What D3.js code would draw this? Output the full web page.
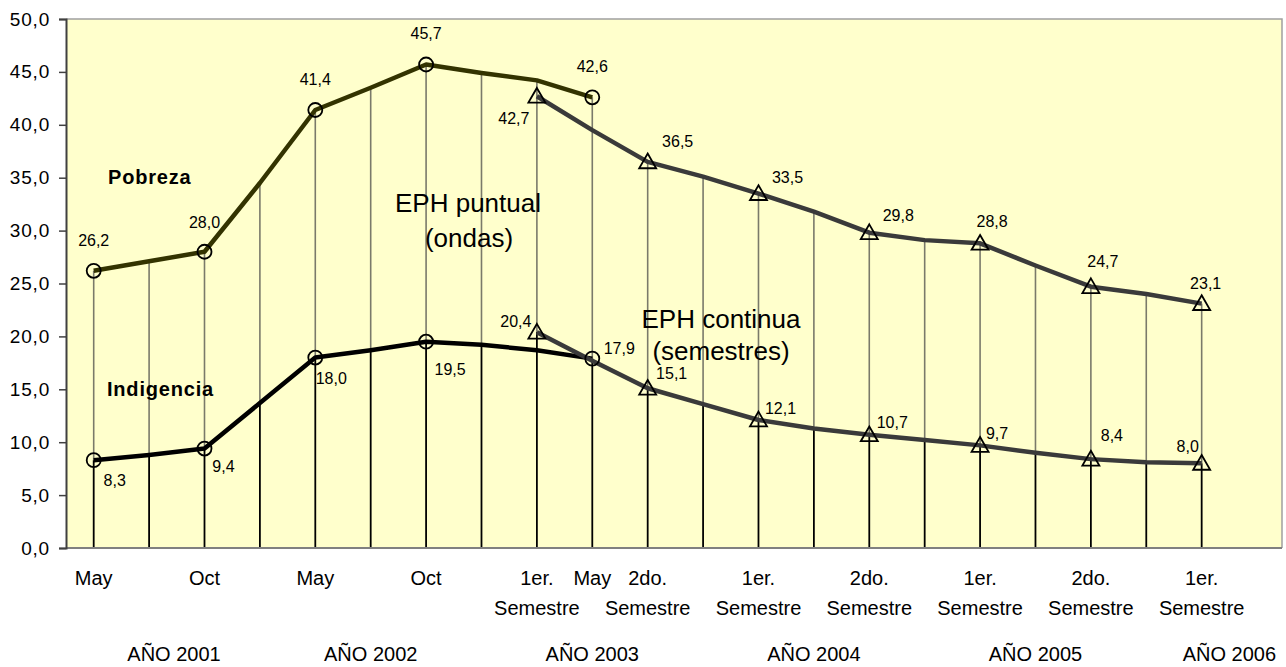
<!DOCTYPE html>
<html>
<head>
<meta charset="utf-8">
<script src="https://cdn.jsdelivr.net/npm/d3@7"></script>
<style>
  html, body { margin: 0; padding: 0; background: #ffffff; }
  svg { display: block; font-family: "Liberation Sans", Arial, sans-serif; }
</style>
</head>
<body>
<svg id="chart" width="1286" height="667"></svg>
<script>
// ---------------- DATA ----------------
// 22 category slots on the x axis (last one empty)
const categoryLine1 = ["May","","Oct","","May","","Oct","","1er.","May","2do.","","1er.","","2do.","","1er.","","2do.","","1er.",""];
const categoryLine2 = ["","","","","","","","","Semestre","","Semestre","","Semestre","","Semestre","","Semestre","","Semestre","","Semestre",""];
const yearLabels = ["AÑO 2001","AÑO 2002","AÑO 2003","AÑO 2004","AÑO 2005","AÑO 2006"];
const yearSlots  = [1.45, 5, 9, 13, 17, 20.5];
const yTicks = [0,5,10,15,20,25,30,35,40,45,50];

// EPH puntual (ondas): slots 0..9
const ondasStart = 0;
const pobrezaOndas    = [26.2, 27.1, 28.0, 34.5, 41.4, 43.5, 45.7, 44.9, 44.2, 42.6];
const indigenciaOndas = [8.3, 8.8, 9.4, 13.7, 18.0, 18.7, 19.5, 19.2, 18.7, 17.9];
const ondasMarkerSlots = [0, 2, 4, 6, 9];

// EPH continua (semestres): slots 8..20
const contStart = 8;
const pobrezaCont    = [42.7, 39.5, 36.5, 35.1, 33.5, 31.8, 29.8, 29.1, 28.8, 26.7, 24.7, 24.0, 23.1];
const indigenciaCont = [20.4, 17.7, 15.1, 13.6, 12.1, 11.3, 10.7, 10.2, 9.7, 9.0, 8.4, 8.1, 8.0];
const contMarkerSlots = [8, 10, 12, 14, 16, 18, 20];

// label placement (layout, px offsets relative to the marker), in marker order
const offPobOndas = [[0,-25],[0,-24],[0,-25],[0,-25],[0,-25]];
const offIndOndas = [[21,26],[19,23],[16,26],[24,33],[27,-5]];
const offPobCont  = [[-23,28],[30,-15],[29,-11],[29,-12],[12,-16],[12,-20],[4,-15]];
const offIndCont  = [[-21,-5],[24,-9],[22,-6],[23,-7],[17,-6],[21,-18],[-14,-11]];

// ---------------- CHART ----------------
const svg = d3.select("#chart");
const L = 66, R = 1282, T = 19, B = 548;

const x = d3.scaleLinear().domain([-0.5, 21.45]).range([L, R]);
const y = d3.scaleLinear().domain([0, 50]).range([B, T]);
const fmt = v => d3.format(".1f")(v).replace(".", ",");

// plot background
svg.append("rect").attr("x", L).attr("y", T).attr("width", R - L).attr("height", B - T)
  .attr("fill", "#FFFFCC");

// build per-slot maxima for drop lines
const slotCount = 21;
const pobAt = [], indAt = [];
for (let i = 0; i < slotCount; i++) { pobAt[i] = -Infinity; indAt[i] = -Infinity; }
pobrezaOndas.forEach((v, k) => { const i = ondasStart + k; pobAt[i] = Math.max(pobAt[i], v); });
pobrezaCont.forEach((v, k) => { const i = contStart + k; pobAt[i] = Math.max(pobAt[i], v); });
indigenciaOndas.forEach((v, k) => { const i = ondasStart + k; indAt[i] = Math.max(indAt[i], v); });
indigenciaCont.forEach((v, k) => { const i = contStart + k; indAt[i] = Math.max(indAt[i], v); });

const drops = d3.range(slotCount);
svg.append("g").selectAll("line").data(drops).join("line")
  .attr("x1", i => x(i)).attr("x2", i => x(i))
  .attr("y1", i => y(pobAt[i])).attr("y2", i => y(indAt[i]))
  .attr("stroke", "#7a7a6a").attr("stroke-width", 1.6);
svg.append("g").selectAll("line").data(drops).join("line")
  .attr("x1", i => x(i)).attr("x2", i => x(i))
  .attr("y1", i => y(indAt[i])).attr("y2", y(0))
  .attr("stroke", "#000000").attr("stroke-width", 1.8);

// border (top / right gray)
svg.append("path")
  .attr("d", `M${L},${T}H${R}V${B}`)
  .attr("fill", "none").attr("stroke", "#a0a0a0").attr("stroke-width", 1.5);

// x axis baseline
svg.append("line").attr("x1", L).attr("x2", R).attr("y1", B).attr("y2", B)
  .attr("stroke", "#808080").attr("stroke-width", 2);

// y axis
const yAxis = d3.axisLeft(y).tickValues(yTicks).tickSize(7).tickPadding(9).tickFormat(fmt);
const gy = svg.append("g").attr("transform", `translate(${L},0)`).call(yAxis);
gy.select(".domain").attr("stroke", "#404040").attr("stroke-width", 2);
gy.selectAll(".tick line").attr("stroke", "#404040").attr("stroke-width", 1.5);
gy.selectAll(".tick text").attr("font-size", 19).attr("fill", "#000")
  .attr("font-family", "'Liberation Sans', Arial, sans-serif").attr("letter-spacing", 0.8);

// lines
const line = (start) => d3.line().x((d, k) => x(start + k)).y(d => y(d));
svg.append("path").datum(pobrezaOndas).attr("d", line(ondasStart))
  .attr("fill", "none").attr("stroke", "#333300").attr("stroke-width", 4.5).attr("stroke-linejoin", "round");
svg.append("path").datum(indigenciaOndas).attr("d", line(ondasStart))
  .attr("fill", "none").attr("stroke", "#000000").attr("stroke-width", 4.5).attr("stroke-linejoin", "round");
svg.append("path").datum(pobrezaCont).attr("d", line(contStart))
  .attr("fill", "none").attr("stroke", "#3a3a3a").attr("stroke-width", 4.5).attr("stroke-linejoin", "round");
svg.append("path").datum(indigenciaCont).attr("d", line(contStart))
  .attr("fill", "none").attr("stroke", "#3a3a3a").attr("stroke-width", 4.5).attr("stroke-linejoin", "round");

// markers
function circles(vals, start, slots) {
  svg.append("g").selectAll("circle").data(slots).join("circle")
    .attr("cx", i => x(i)).attr("cy", i => y(vals[i - start])).attr("r", 7)
    .attr("fill", "none").attr("stroke", "#000").attr("stroke-width", 1.8);
}
function triangles(vals, start, slots) {
  const tri = d3.symbol().type(d3.symbolTriangle).size(125);
  svg.append("g").selectAll("path").data(slots).join("path")
    .attr("transform", i => `translate(${x(i)},${y(vals[i - start]) + 1.5})`)
    .attr("d", tri)
    .attr("fill", "none").attr("stroke", "#000").attr("stroke-width", 1.8);
}
circles(pobrezaOndas, ondasStart, ondasMarkerSlots);
circles(indigenciaOndas, ondasStart, ondasMarkerSlots);
triangles(pobrezaCont, contStart, contMarkerSlots);
triangles(indigenciaCont, contStart, contMarkerSlots);

// data labels
function labels(vals, start, slots, offs) {
  svg.append("g").selectAll("text").data(slots).join("text")
    .attr("x", (i, k) => x(i) + offs[k][0])
    .attr("y", (i, k) => y(vals[i - start]) + offs[k][1])
    .attr("text-anchor", "middle").attr("font-size", 16).attr("fill", "#000")
    .text(i => fmt(vals[i - start]));
}
labels(pobrezaOndas, ondasStart, ondasMarkerSlots, offPobOndas);
labels(indigenciaOndas, ondasStart, ondasMarkerSlots, offIndOndas);
labels(pobrezaCont, contStart, contMarkerSlots, offPobCont);
labels(indigenciaCont, contStart, contMarkerSlots, offIndCont);

// x category labels
const cats = d3.range(categoryLine1.length);
svg.append("g").selectAll("text").data(cats.filter(i => categoryLine1[i])).join("text")
  .attr("x", i => x(i)).attr("y", 585).attr("text-anchor", "middle")
  .attr("font-size", 20).attr("fill", "#000").text(i => categoryLine1[i]);
svg.append("g").selectAll("text").data(cats.filter(i => categoryLine2[i])).join("text")
  .attr("x", i => x(i)).attr("y", 615).attr("text-anchor", "middle")
  .attr("font-size", 20).attr("fill", "#000").text(i => categoryLine2[i]);
svg.append("g").selectAll("text").data(yearLabels).join("text")
  .attr("x", (d, k) => x(yearSlots[k])).attr("y", 661).attr("text-anchor", "middle")
  .attr("font-size", 20).attr("fill", "#000").text(d => d);

// series annotations
svg.append("text").attr("x", 108).attr("y", 184).attr("font-size", 20).attr("font-weight", "bold")
  .attr("letter-spacing", 0.8).text("Pobreza");
svg.append("text").attr("x", 107).attr("y", 396).attr("font-size", 20).attr("font-weight", "bold")
  .attr("letter-spacing", 0.8).text("Indigencia");
svg.append("text").attr("x", 468).attr("y", 212).attr("text-anchor", "middle").attr("font-size", 26).text("EPH puntual");
svg.append("text").attr("x", 469).attr("y", 247).attr("text-anchor", "middle").attr("font-size", 26).text("(ondas)");
svg.append("text").attr("x", 721).attr("y", 328).attr("text-anchor", "middle").attr("font-size", 26).text("EPH continua");
svg.append("text").attr("x", 721).attr("y", 360).attr("text-anchor", "middle").attr("font-size", 26).text("(semestres)");
</script>
</body>
</html>
